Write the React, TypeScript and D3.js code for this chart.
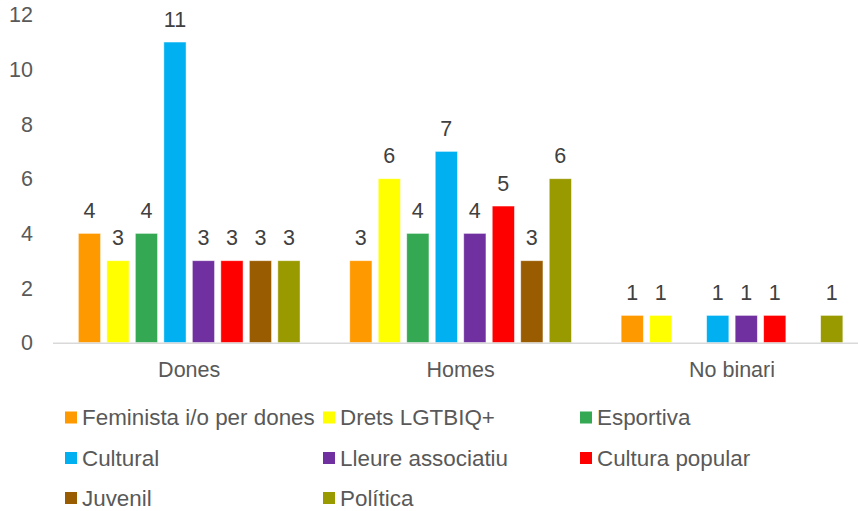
import React from 'react';
import * as d3 from 'd3';

// categories on the x axis
const categories = ['Dones', 'Homes', 'No binari'];

// series (entity types) and their colours
const series = [
  'Feminista i/o per dones',
  'Drets LGTBIQ+',
  'Esportiva',
  'Cultural',
  'Lleure associatiu',
  'Cultura popular',
  'Juvenil',
  'Política',
];
const colors = ['#FF9900', '#FFFF00', '#34A853', '#00B0F0', '#7030A0', '#FF0000', '#995C00', '#999900'];

// values per series, one per category (null = no bar)
const feminista = [4, 3, 1];
const drets = [3, 6, 1];
const esportiva = [4, 4, null];
const cultural = [11, 7, 1];
const lleure = [3, 4, 1];
const culturaPopular = [3, 5, 1];
const juvenil = [3, 3, null];
const politica = [3, 6, 1];
const values = [feminista, drets, esportiva, cultural, lleure, culturaPopular, juvenil, politica];

const yTicks = [0, 2, 4, 6, 8, 10, 12];

const App = () => {
  const width = 858;
  const height = 511;
  const font = '"Liberation Sans", Arial, sans-serif';

  const x0 = d3.scaleBand().domain(categories).range([53.5, 867.7]).padding(0);
  const bw = x0.bandwidth();
  const groupW = 228;
  const x1 = d3
    .scaleBand()
    .domain(series)
    .range([(bw - groupW) / 2, (bw + groupW) / 2])
    .paddingInner(0.22)
    .paddingOuter(0.11);
  const y = d3.scaleLinear().domain([0, 12]).range([342.7, 14.7]);

  // legend layout: 3 columns
  const legendCols = [65, 323, 580];
  const legendRows = [417.5, 458, 498];

  return (
    <svg
      width={width}
      height={height}
      style={{ position: 'absolute', left: 0, top: 0, background: '#fff' }}
      fontFamily={font}
    >
      {/* y tick labels */}
      {yTicks.map((t) => (
        <text key={t} x={33} y={y(t)} dy="0.35em" textAnchor="end" fontSize={21.5} fill="#595959">
          {t}
        </text>
      ))}

      {/* bars + labels */}
      {categories.map((c, ci) => (
        <g key={c} transform={`translate(${x0(c)},0)`}>
          {series.map((s, si) => {
            const v = values[si][ci];
            if (v == null) return null;
            const bx = x1(s)!;
            return (
              <g key={s}>
                <rect
                  x={bx}
                  y={y(v)}
                  width={x1.bandwidth()}
                  height={y(0) - y(v)}
                  fill={colors[si]}
                  stroke="#fff"
                  strokeOpacity={0.6}
                  strokeWidth={0.8}
                />
                <text
                  x={bx + x1.bandwidth() / 2}
                  y={y(v) - 15.5}
                  textAnchor="middle"
                  fontSize={21.5}
                  fill="#404040"
                >
                  {v}
                </text>
              </g>
            );
          })}
          <text x={bw / 2} y={376.5} textAnchor="middle" fontSize={21.5} fill="#595959">
            {c}
          </text>
        </g>
      ))}

      {/* x axis line */}
      <line x1={53} x2={width} y1={y(0) + 0.5} y2={y(0) + 0.5} stroke="#D9D9D9" strokeWidth={1.5} />

      {/* legend */}
      {series.map((s, i) => {
        const lx = legendCols[i % 3];
        const ly = legendRows[Math.floor(i / 3)];
        return (
          <g key={s}>
            <rect x={lx} y={ly - 6} width={12} height={12} fill={colors[i]} />
            <text x={lx + 17} y={ly} dy="0.35em" fontSize={22.4} fill="#595959">
              {s}
            </text>
          </g>
        );
      })}
    </svg>
  );
};

export default App;
